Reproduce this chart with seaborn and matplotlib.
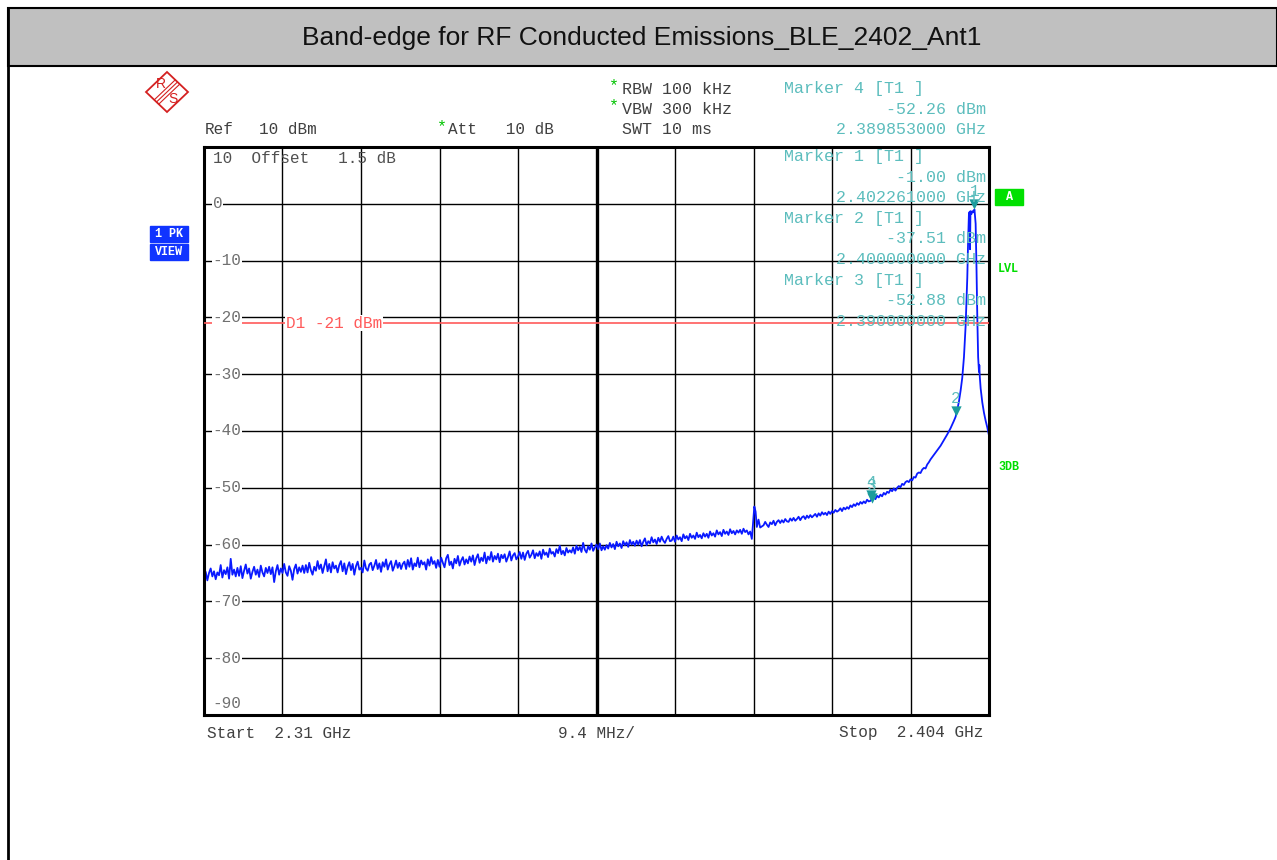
import numpy as np
import pandas as pd
import seaborn as sns
import matplotlib.pyplot as plt
from matplotlib.patches import Rectangle, Polygon
import matplotlib.transforms as mtransforms

# sweep setup
title = 'Band-edge for RF Conducted Emissions_BLE_2402_Ant1'
f_start = 2.31
f_stop = 2.404
ref_level = 10
y_bottom = -90
d1_level = -21

# noise floor 2.310 .. 2.3756 GHz (0.2 MHz steps)
floor_lo = [
    -65.9, -64.8, -66.3, -65.0, -64.2, -65.6, -64.7, -66.1, -64.9, -65.4,
    -63.6, -65.8, -64.5, -65.2, -64.0, -66.0, -62.5, -65.3, -64.4, -65.6,
    -64.1, -65.5, -63.8, -65.9, -64.6, -63.5, -65.1, -64.2, -66.0, -64.8,
    -63.9, -65.3, -64.4, -65.7, -63.7, -64.9, -65.6, -64.1, -65.0, -63.9,
    -65.2, -64.0, -66.6, -64.7, -63.6, -65.3, -64.2, -65.0, -63.4, -64.9,
    -65.5, -63.8, -64.6, -66.2, -64.3, -63.5, -65.1, -64.0, -64.8, -63.7,
    -65.0, -63.6, -64.9, -63.2, -64.5, -65.3, -63.9, -64.6, -62.9, -64.3,
    -63.5, -65.0, -63.8, -62.6, -64.7, -63.4, -64.9, -63.1, -64.2, -63.7,
    -64.9, -63.6, -62.9, -64.7, -63.3, -65.2, -63.9, -63.1, -64.5, -63.4,
    -65.3, -63.8, -63.0, -64.4, -64.1, -64.9, -62.8, -64.2, -64.6, -63.5,
    -63.2, -64.5, -63.7, -62.7, -64.3, -63.3, -64.8, -63.1, -63.9, -62.6,
    -64.4, -63.5, -62.9, -64.6, -63.8, -62.8, -64.1, -63.2, -64.3, -63.4,
    -63.0, -64.3, -62.7, -63.9, -62.4, -64.4, -63.3, -63.8, -62.3, -64.0,
    -62.8, -63.5, -63.1, -64.4, -62.6, -63.7, -62.2, -63.4, -62.9, -64.1,
    -62.7, -63.9, -62.3, -63.2, -64.0, -62.4, -61.8, -63.6, -63.0, -64.2,
    -62.5, -63.3, -62.0, -63.7, -62.8, -62.2, -63.5, -62.6, -63.3, -62.1,
    -63.0, -61.9, -63.6, -62.4, -61.7, -63.2, -62.3, -62.9, -61.4, -63.3,
    -62.1, -62.7, -61.3, -63.0, -62.0, -62.6, -61.6, -63.1, -61.8, -62.4,
    -61.7, -63.0, -62.2, -61.2, -62.8, -61.9, -61.5, -62.6, -62.1, -61.3,
    -62.5, -61.4, -62.7, -61.6, -61.1, -62.3, -61.8, -61.0, -62.4, -61.5,
    -62.0, -61.2, -62.5, -60.9, -61.8, -61.4, -62.2, -60.7, -61.6, -61.3,
    -62.1, -60.8, -61.5, -60.2, -61.7, -61.1, -61.9, -60.6, -61.4, -61.0,
    -61.4, -60.5, -61.6, -60.2, -61.0, -60.4, -61.3, -59.7, -60.9, -61.4,
    -60.3, -60.9, -59.8, -61.1, -60.5, -60.0, -60.8, -59.8, -61.0, -60.3,
    -60.9, -60.1, -60.7, -59.7, -60.5, -59.9, -60.8, -59.5, -60.3, -59.8,
    -60.6, -59.4, -60.1, -59.6, -60.4, -59.2, -60.0, -59.5, -60.2, -59.3,
    -60.0, -59.2, -60.3, -59.5, -58.9, -60.1, -59.4, -59.8, -58.7, -59.6,
    -59.1, -59.9, -58.8, -59.5, -58.6, -59.3, -59.7, -59.0, -58.5, -59.4,
    -59.3, -58.6, -59.5, -58.4, -59.1, -58.7, -59.4, -58.2, -58.9, -58.5,
    -59.2, -58.1, -58.8, -58.4, -59.0, -57.9, -58.7, -58.3, -58.9, -58.0,
    -58.6, -58.1, -58.8, -57.7, -58.4, -58.0, -58.6, -57.5, -58.2, -57.8,
    -58.5, -57.4, -58.1, -57.7, -58.3, -57.3, -58.0, -57.6, -58.2, -57.5,
    -57.9, -57.4, -58.1, -57.2, -57.8, -57.5, -58.2, -57.7, -59.0,
]
# small spur near 2.376 GHz
spur_freq = [2.37590, 2.37605, 2.37620, 2.37640, 2.37660]
spur_level = [-53.3, -54.2, -56.9, -55.6, -57.0]
# rising skirt 2.3770 .. 2.3978 GHz (0.2 MHz steps)
floor_hi = [
    -56.6, -56.0, -56.5, -56.9, -56.1, -56.4, -55.8, -56.6, -56.0, -55.7,
    -56.2, -55.7, -56.1, -55.5, -55.9, -56.0, -55.4, -55.8, -55.3, -55.8,
    -55.5, -55.1, -55.7, -55.2, -55.0, -55.5, -54.9, -55.3, -54.8, -55.2,
    -54.9, -54.6, -55.1, -54.5, -54.9, -54.3, -54.7, -54.4, -54.8, -54.2,
    -54.6, -54.1, -54.4, -53.9, -54.2, -54.0, -53.6, -54.1, -53.5, -53.8,
    -53.4, -53.7, -53.1, -53.4, -52.9, -53.2, -52.7, -53.0, -52.5, -52.8,
    -52.4, -52.7, -52.1, -52.4, -52.3, -51.9, -51.6, -52.0, -51.4, -51.7,
    -51.2, -51.5, -50.9, -51.2, -50.7, -50.9, -50.3, -50.6, -50.1, -50.5,
    -50.0, -49.7, -49.9, -49.3, -49.5, -49.0, -48.8, -49.0, -48.5, -48.7,
    -48.1, -48.2, -47.5, -47.3, -47.4, -46.8, -46.5, -46.6, -45.9, -45.5,
    -45.0, -44.6, -44.2, -43.8, -43.4,
]
# carrier
peak_freq = [2.3982, 2.3986, 2.3990, 2.3994, 2.3998, 2.4000, 2.4002, 2.4004,
             2.4006, 2.4008, 2.4010, 2.4012, 2.4014, 2.4015, 2.4016, 2.40170,
             2.40173, 2.40178, 2.4019, 2.4020, 2.4021, 2.40226, 2.4024, 2.4025,
             2.4026, 2.4027, 2.40280, 2.40284, 2.40290, 2.4030, 2.4032, 2.4034,
             2.4036, 2.4038, 2.4040]
peak_level = [-42.6, -41.6, -40.6, -39.5, -38.2, -37.5, -36.3, -34.8,
              -32.9, -30.6, -27.0, -21.5, -13.0, -6.5, -1.6, -1.4,
              -8.0, -1.3, -1.8, -1.3, -1.5, -1.0, -3.5, -11.0,
              -20.0, -27.0, -29.6, -28.4, -30.5, -32.5, -35.0, -36.8,
              -38.2, -39.4, -40.8]

marker_id = [1, 2, 3, 4]
marker_freq = [2.402261, 2.400000, 2.390000, 2.389853]
marker_level = [-1.00, -37.51, -52.88, -52.26]

trace = pd.DataFrame({
    'freq': np.concatenate([np.linspace(2.310, 2.3756, len(floor_lo)), spur_freq,
                            np.linspace(2.3770, 2.3978, len(floor_hi)), peak_freq]),
    'level': np.concatenate([floor_lo, spur_level, floor_hi, peak_level]),
})

sns.set_style('white')
plt.rcParams['font.family'] = ['Liberation Mono', 'DejaVu Sans']

W, H = 1277, 860
fig = plt.figure(figsize=(W / 100, H / 100), dpi=100)

# page overlay in pixel units
page = fig.add_axes([0, 0, 1, 1])
page.set_xlim(0, W)
page.set_ylim(H, 0)
page.axis('off')
page.set_zorder(3)
page.patch.set_alpha(0)

ax = fig.add_axes([204 / W, (H - 715) / H, 785 / W, 568 / H])
ax.set_zorder(2)

sns.lineplot(data=trace, x='freq', y='level', ax=ax, color='#0a1aff',
             linewidth=1.3, estimator=None, sort=False)

ax.set_xlim(f_start, f_stop)
ax.set_ylim(y_bottom, ref_level)
ax.set_xticks(np.linspace(f_start, f_stop, 11))
ax.set_yticks(np.arange(y_bottom, ref_level + 1, 10))
ax.grid(True, color='black', linewidth=1.0)
ax.tick_params(length=0, labelbottom=False, labelleft=False)
ax.set_xlabel('')
ax.set_ylabel('')
for sp in ax.spines.values():
    sp.set_color('black')
    sp.set_linewidth(2.2)
ax.axvline((f_start + f_stop) / 2, color='black', linewidth=2.4, zorder=1)

# display line D1
ax.axhline(d1_level, color='#ff5a5a', linewidth=1.2, zorder=3)
ax.text(f_start + 0.0098, d1_level, f'D1 {d1_level} dBm', color='#ff5a5a',
        fontsize=11.5, va='center', ha='left', zorder=4,
        bbox=dict(facecolor='white', edgecolor='none', pad=0.5))

# level labels inside the grid
lab = mtransforms.blended_transform_factory(ax.transAxes, ax.transData)
for v in range(-80, 1, 10):
    ax.text(0.011, v, str(v), transform=lab, color='#707070', fontsize=11.5,
            va='center', ha='left', zorder=4,
            bbox=dict(facecolor='white', edgecolor='none', pad=0.3))
ax.text(0.011, -88, str(y_bottom), transform=lab, color='#707070', fontsize=11.5,
        va='center', ha='left')
ax.text(0.011, 8, f'{ref_level}  Offset   1.5 dB', transform=lab, color='#505050',
        fontsize=11.5, va='center', ha='left')

# markers on the trace
ax.scatter(marker_freq, [m + 1.0 for m in marker_level], marker='v', s=55,
           color='#1c9c9c', zorder=5, linewidths=0)
for mid, mf, ml in zip(marker_id, marker_freq, marker_level):
    ax.text(mf, ml + 3.2, str(mid), color='#5cbdbd', fontsize=11.5,
            ha='center', va='center', zorder=5)

# marker readouts
teal = '#5cbdbd'
fs = 12
blocks = [(4, 89), (1, 157), (2, 218), (3, 280)]
for mid, y0 in blocks:
    i = marker_id.index(mid)
    page.text(784, y0, f'Marker {mid} [T1 ]', color=teal, fontsize=fs, va='center')
    page.text(986, y0 + 20.5, f'{marker_level[i]:.2f} dBm', color=teal,
              fontsize=fs, va='center', ha='right')
    page.text(986, y0 + 41, f'{marker_freq[i]:.9f} GHz', color=teal,
              fontsize=fs, va='center', ha='right')

# instrument settings
dark = '#404040'
green_star = '#00c400'
page.text(614, 86, '*', color=green_star, fontsize=fs, va='center', ha='center')
page.text(622, 89, 'RBW 100 kHz', color=dark, fontsize=fs, va='center')
page.text(614, 106, '*', color=green_star, fontsize=fs, va='center', ha='center')
page.text(622, 109, 'VBW 300 kHz', color=dark, fontsize=fs, va='center')
page.text(622, 130, 'SWT 10 ms', color=dark, fontsize=fs, va='center')
page.text(205, 130, 'Ref', color=dark, fontsize=11.5, va='center')
page.text(259, 130, f'{ref_level} dBm', color=dark, fontsize=11.5, va='center')
page.text(442, 127, '*', color=green_star, fontsize=fs, va='center', ha='center')
page.text(448, 130, 'Att   10 dB', color=dark, fontsize=11.5, va='center')
page.text(207, 733, f'Start  {f_start} GHz', color=dark, fontsize=11.5, va='center')
page.text(596, 733, f'{(f_stop - f_start) * 100:.1f} MHz/', color=dark,
          fontsize=11.5, va='center', ha='center')
page.text(983, 733, f'Stop  {f_stop} GHz', color=dark, fontsize=11.5,
          va='center', ha='right')

# side badges
blue = '#1034ff'
for y0, s in [(226, '1 PK'), (244, 'VIEW')]:
    page.add_patch(Rectangle((150, y0), 38, 16, color=blue, zorder=1))
    page.text(169, y0 + 8, s, color='white', fontsize=8.5, weight='bold',
              ha='center', va='center')
page.add_patch(Rectangle((995, 189), 28, 16, color='#00e000', zorder=1))
page.text(1009, 197, 'A', color='white', fontsize=8.5, weight='bold',
          ha='center', va='center')
page.text(998, 269, 'LVL', color='#00dd00', fontsize=8.5, weight='bold', va='center')
page.text(998, 467, '3DB', color='#00dd00', fontsize=8.5, weight='bold', va='center')

# R&S logo
red = '#d42020'
page.add_patch(Polygon([(167, 72), (188, 92), (167, 112), (146, 92)],
                       closed=True, fill=False, edgecolor=red, linewidth=1.3))
for d in (-2.2, 0, 2.2):
    page.plot([177.5 + d, 156.5 + d], [82 + d, 102 + d], color=red, linewidth=0.8)
page.text(161, 84, 'R', color=red, fontsize=10, family='Liberation Sans',
          ha='center', va='center')
page.text(173, 99, 'S', color=red, fontsize=10, family='Liberation Sans',
          ha='center', va='center')

# title bar and page frame
page.add_patch(Rectangle((8, 8), W - 8, 58, facecolor='#c0c0c0',
                         edgecolor='black', linewidth=1.5, zorder=0))
page.plot([8, 8], [8, H], color='black', linewidth=2)
page.text(642, 38, title, ha='center', va='center', fontsize=19,
          family='Liberation Sans', color='#111111')

fig.savefig('out.png', dpi=100, facecolor='white')
